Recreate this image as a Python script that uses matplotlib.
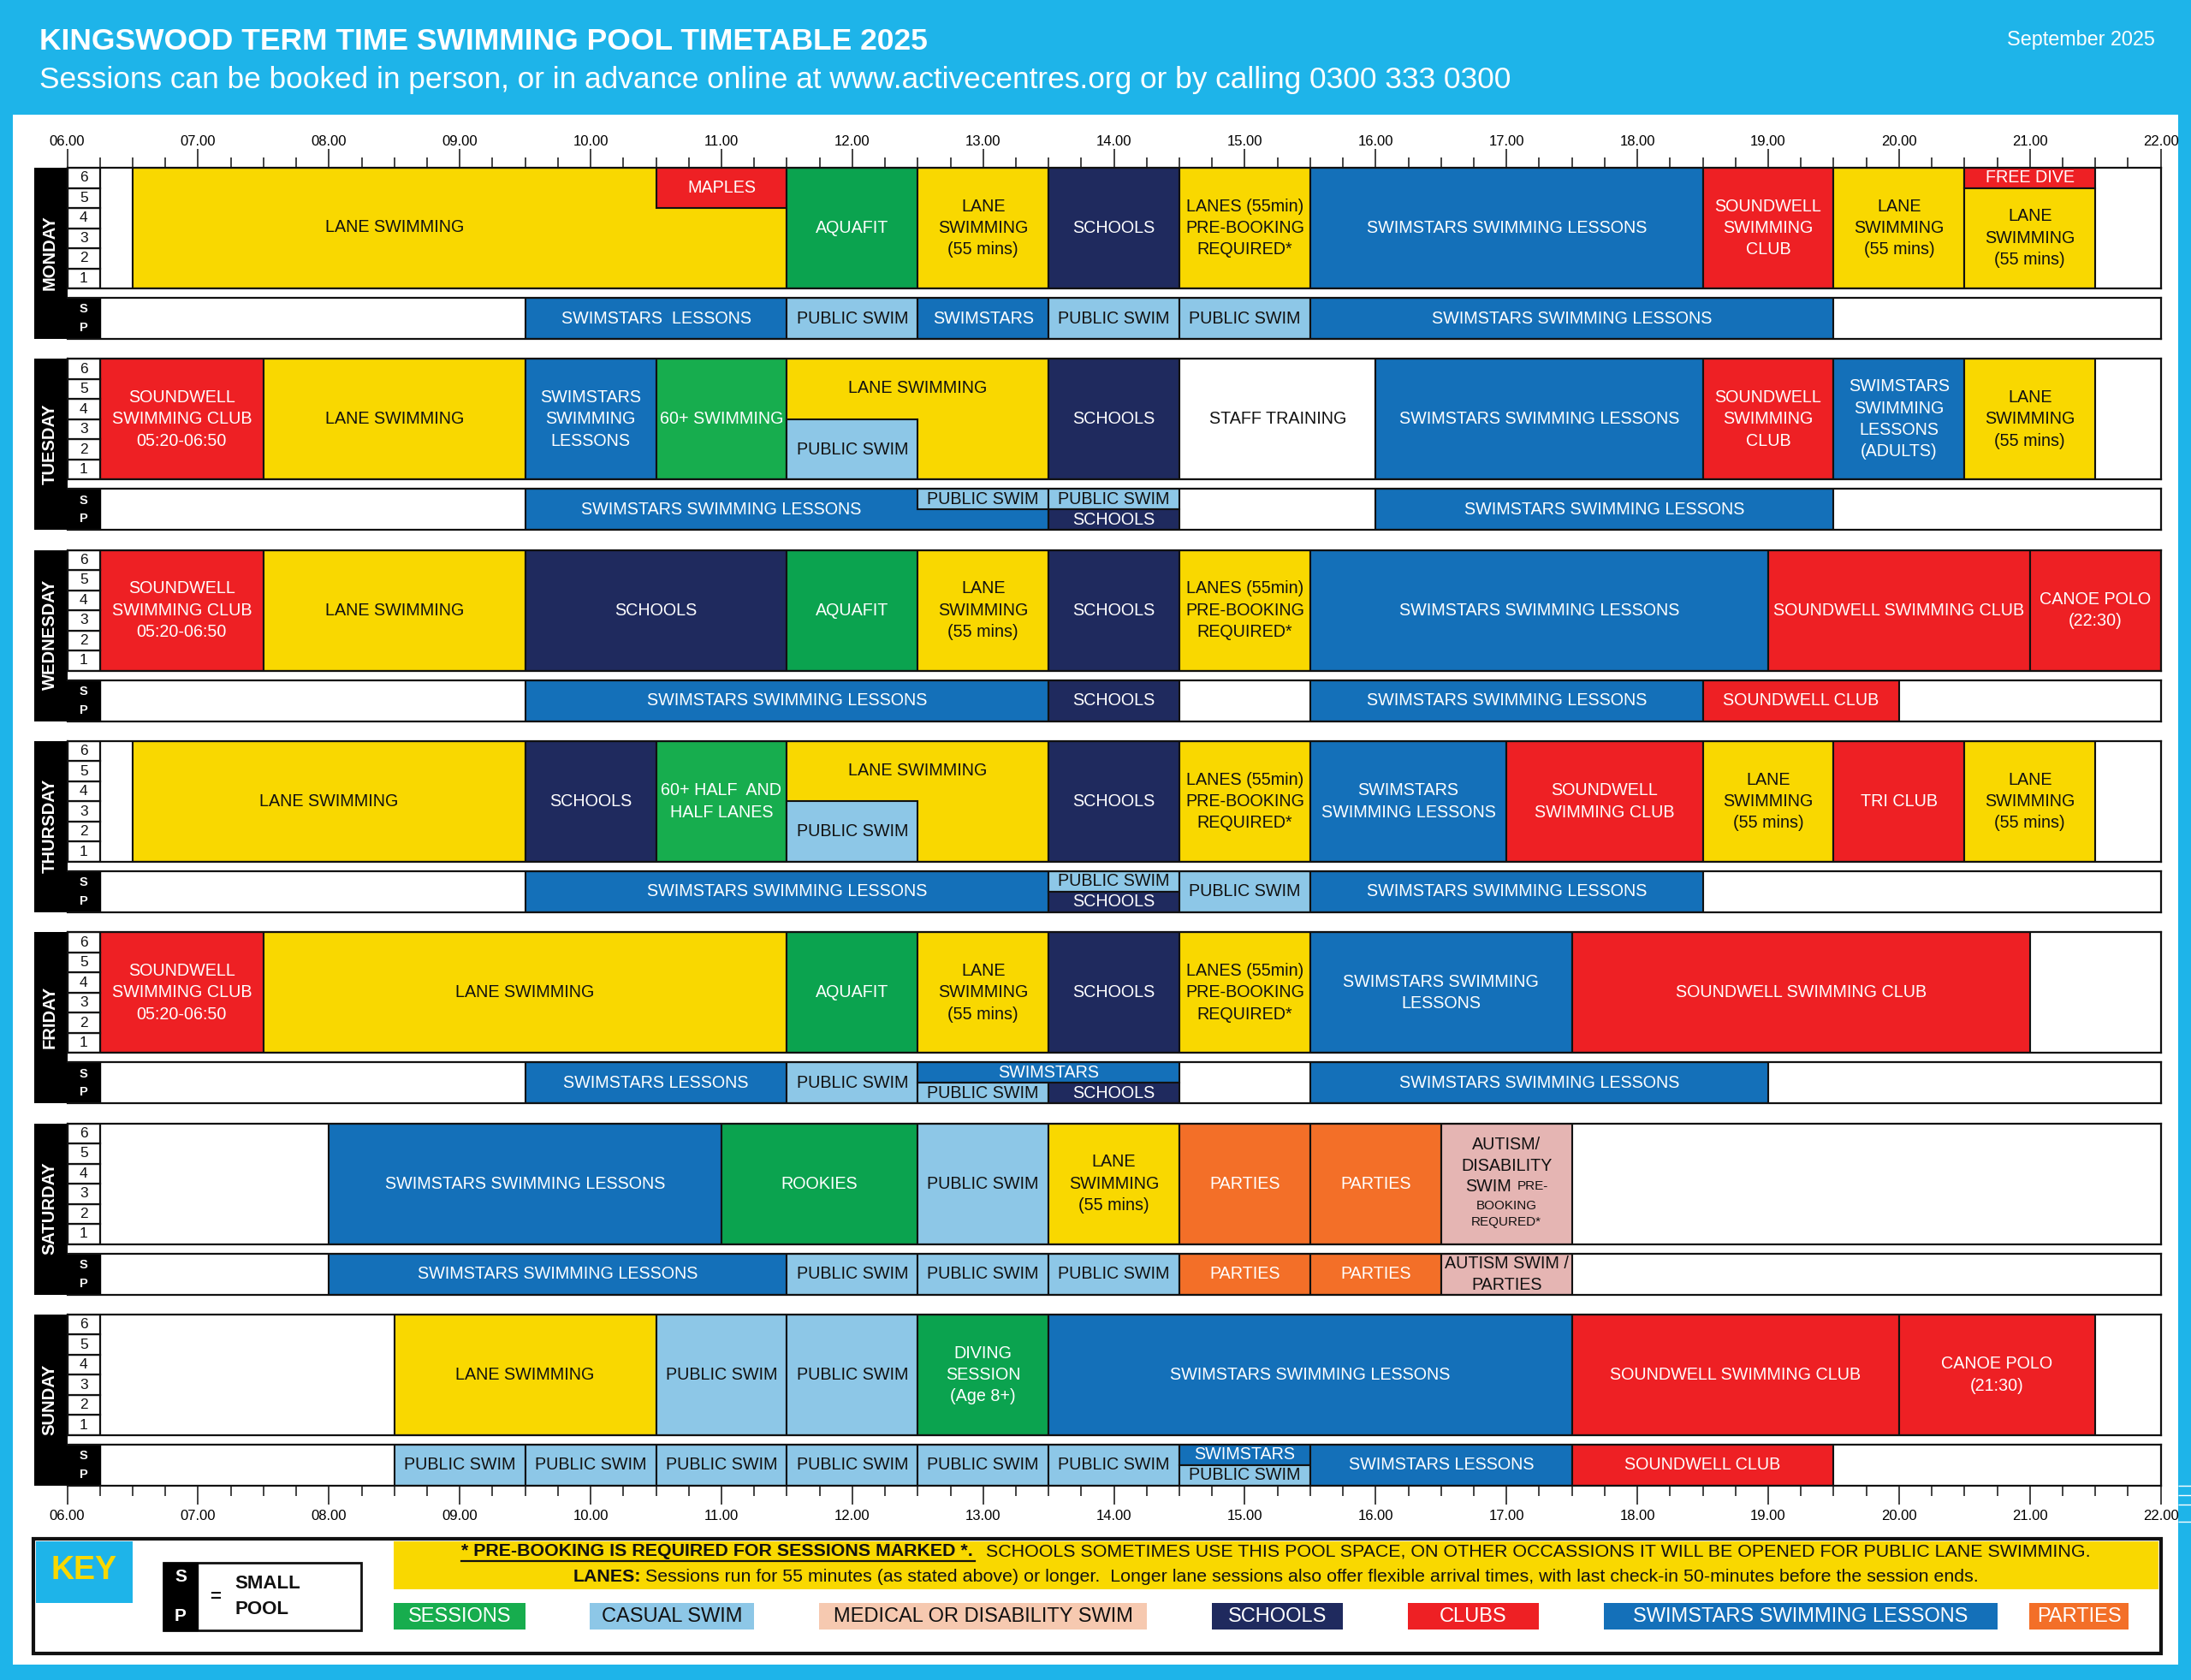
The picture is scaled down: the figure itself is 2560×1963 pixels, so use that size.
import matplotlib
matplotlib.use("Agg")
import matplotlib.pyplot as plt
from matplotlib.patches import Rectangle
from matplotlib.ticker import MultipleLocator, FuncFormatter

plt.rcParams['font.family'] = ['Liberation Sans', 'DejaVu Sans']

W, H = 2560, 1963
X0, X1 = 78.6, 2524.6
PITCH = 223.33
LW = 1.6

COL = {
    'lane': '#F9D800', 'club': '#EE2024', 'sess': '#0BA34F', 'sess2': '#17AD4E',
    'school': '#1F2A5E', 'stars': '#1470B9', 'casual': '#8DC7E7', 'med': '#E5B5B3',
    'party': '#F36F28', 'none': '#FFFFFF',
}
DARK_TEXT = {'lane', 'casual', 'med', 'none'}

DAYS = ['MONDAY', 'TUESDAY', 'WEDNESDAY', 'THURSDAY', 'FRIDAY', 'SATURDAY', 'SUNDAY']

LANE55 = 'LANE\nSWIMMING\n(55 mins)'
PREBOOK = 'LANES (55min)\nPRE-BOOKING\nREQUIRED*'
SWS = 'SWIMSTARS SWIMMING LESSONS'
SSC = 'SOUNDWELL\nSWIMMING\nCLUB'
SEARLY = 'SOUNDWELL\nSWIMMING CLUB\n05:20-06:50'
PS = 'PUBLIC SWIM'

# (start hour, end hour, lane low, lane high, category, label[, label x, label y])
monday = [
    (6.5, 11.5, 0, 6, 'lane', 'LANE SWIMMING', 8.5, 3.05),
    (10.5, 11.5, 4, 6, 'club', 'MAPLES'),
    (11.5, 12.5, 0, 6, 'sess', 'AQUAFIT'),
    (12.5, 13.5, 0, 6, 'lane', LANE55),
    (13.5, 14.5, 0, 6, 'school', 'SCHOOLS'),
    (14.5, 15.5, 0, 6, 'lane', PREBOOK),
    (15.5, 18.5, 0, 6, 'stars', SWS),
    (18.5, 19.5, 0, 6, 'club', SSC),
    (19.5, 20.5, 0, 6, 'lane', LANE55),
    (20.5, 21.5, 5, 6, 'club', 'FREE DIVE'),
    (20.5, 21.5, 0, 5, 'lane', LANE55),
]
monday_sp = [
    (9.5, 11.5, 0, 1, 'stars', 'SWIMSTARS  LESSONS'),
    (11.5, 12.5, 0, 1, 'casual', PS),
    (12.5, 13.5, 0, 1, 'stars', 'SWIMSTARS'),
    (13.5, 14.5, 0, 1, 'casual', PS),
    (14.5, 15.5, 0, 1, 'casual', PS),
    (15.5, 19.5, 0, 1, 'stars', SWS),
]
tuesday = [
    (6.25, 7.5, 0, 6, 'club', SEARLY),
    (7.5, 9.5, 0, 6, 'lane', 'LANE SWIMMING'),
    (9.5, 10.5, 0, 6, 'stars', 'SWIMSTARS\nSWIMMING\nLESSONS'),
    (10.5, 11.5, 0, 6, 'sess2', '60+ SWIMMING'),
    (11.5, 13.5, 0, 6, 'lane', 'LANE SWIMMING', 12.5, 4.55),
    (11.5, 12.5, 0, 3, 'casual', PS),
    (13.5, 14.5, 0, 6, 'school', 'SCHOOLS'),
    (14.5, 16, 0, 6, 'none', 'STAFF TRAINING'),
    (16, 18.5, 0, 6, 'stars', SWS),
    (18.5, 19.5, 0, 6, 'club', SSC),
    (19.5, 20.5, 0, 6, 'stars', 'SWIMSTARS\nSWIMMING\nLESSONS\n(ADULTS)'),
    (20.5, 21.5, 0, 6, 'lane', LANE55),
]
tuesday_sp = [
    (9.5, 13.5, 0, 1, 'stars', SWS, 11.0, 0.5),
    (12.5, 13.5, 0.5, 1, 'casual', PS),
    (13.5, 14.5, 0.5, 1, 'casual', PS),
    (13.5, 14.5, 0, 0.5, 'school', 'SCHOOLS'),
    (16, 19.5, 0, 1, 'stars', SWS),
]
wednesday = [
    (6.25, 7.5, 0, 6, 'club', SEARLY),
    (7.5, 9.5, 0, 6, 'lane', 'LANE SWIMMING'),
    (9.5, 11.5, 0, 6, 'school', 'SCHOOLS'),
    (11.5, 12.5, 0, 6, 'sess', 'AQUAFIT'),
    (12.5, 13.5, 0, 6, 'lane', LANE55),
    (13.5, 14.5, 0, 6, 'school', 'SCHOOLS'),
    (14.5, 15.5, 0, 6, 'lane', PREBOOK),
    (15.5, 19, 0, 6, 'stars', SWS),
    (19, 21, 0, 6, 'club', 'SOUNDWELL SWIMMING CLUB'),
    (21, 22, 0, 6, 'club', 'CANOE POLO\n(22:30)'),
]
wednesday_sp = [
    (9.5, 13.5, 0, 1, 'stars', SWS),
    (13.5, 14.5, 0, 1, 'school', 'SCHOOLS'),
    (15.5, 18.5, 0, 1, 'stars', SWS),
    (18.5, 20, 0, 1, 'club', 'SOUNDWELL CLUB'),
]
thursday = [
    (6.5, 9.5, 0, 6, 'lane', 'LANE SWIMMING'),
    (9.5, 10.5, 0, 6, 'school', 'SCHOOLS'),
    (10.5, 11.5, 0, 6, 'sess2', '60+ HALF  AND\nHALF LANES'),
    (11.5, 13.5, 0, 6, 'lane', 'LANE SWIMMING', 12.5, 4.55),
    (11.5, 12.5, 0, 3, 'casual', PS),
    (13.5, 14.5, 0, 6, 'school', 'SCHOOLS'),
    (14.5, 15.5, 0, 6, 'lane', PREBOOK),
    (15.5, 17, 0, 6, 'stars', 'SWIMSTARS\nSWIMMING LESSONS'),
    (17, 18.5, 0, 6, 'club', 'SOUNDWELL\nSWIMMING CLUB'),
    (18.5, 19.5, 0, 6, 'lane', LANE55),
    (19.5, 20.5, 0, 6, 'club', 'TRI CLUB'),
    (20.5, 21.5, 0, 6, 'lane', LANE55),
]
thursday_sp = [
    (9.5, 13.5, 0, 1, 'stars', SWS),
    (13.5, 14.5, 0.5, 1, 'casual', PS),
    (13.5, 14.5, 0, 0.5, 'school', 'SCHOOLS'),
    (14.5, 15.5, 0, 1, 'casual', PS),
    (15.5, 18.5, 0, 1, 'stars', SWS),
]
friday = [
    (6.25, 7.5, 0, 6, 'club', SEARLY),
    (7.5, 11.5, 0, 6, 'lane', 'LANE SWIMMING'),
    (11.5, 12.5, 0, 6, 'sess', 'AQUAFIT'),
    (12.5, 13.5, 0, 6, 'lane', LANE55),
    (13.5, 14.5, 0, 6, 'school', 'SCHOOLS'),
    (14.5, 15.5, 0, 6, 'lane', PREBOOK),
    (15.5, 17.5, 0, 6, 'stars', 'SWIMSTARS SWIMMING\nLESSONS'),
    (17.5, 21, 0, 6, 'club', 'SOUNDWELL SWIMMING CLUB'),
]
friday_sp = [
    (9.5, 11.5, 0, 1, 'stars', 'SWIMSTARS LESSONS'),
    (11.5, 12.5, 0, 1, 'casual', PS),
    (12.5, 14.5, 0.5, 1, 'stars', 'SWIMSTARS'),
    (12.5, 13.5, 0, 0.5, 'casual', PS),
    (13.5, 14.5, 0, 0.5, 'school', 'SCHOOLS'),
    (15.5, 19, 0, 1, 'stars', SWS),
]
saturday = [
    (8, 11, 0, 6, 'stars', SWS),
    (11, 12.5, 0, 6, 'sess', 'ROOKIES'),
    (12.5, 13.5, 0, 6, 'casual', PS),
    (13.5, 14.5, 0, 6, 'lane', LANE55),
    (14.5, 15.5, 0, 6, 'party', 'PARTIES'),
    (15.5, 16.5, 0, 6, 'party', 'PARTIES'),
    (16.5, 17.5, 0, 6, 'med', 'AUTISM/\nDISABILITY', 17.0, 4.41),
]
# (hour, lane, text, font size, horizontal alignment)
saturday_extra = [
    (17.04, 2.86, 'SWIM', 14.2, 'right'),
    (17.08, 2.86, 'PRE-', 11, 'left'),
    (17.0, 1.92, 'BOOKING', 11, 'center'),
    (17.0, 1.10, 'REQURED*', 11, 'center'),
]
saturday_sp = [
    (8, 11.5, 0, 1, 'stars', SWS),
    (11.5, 12.5, 0, 1, 'casual', PS),
    (12.5, 13.5, 0, 1, 'casual', PS),
    (13.5, 14.5, 0, 1, 'casual', PS),
    (14.5, 15.5, 0, 1, 'party', 'PARTIES'),
    (15.5, 16.5, 0, 1, 'party', 'PARTIES'),
    (16.5, 17.5, 0, 1, 'med', 'AUTISM SWIM /\nPARTIES'),
]
sunday = [
    (8.5, 10.5, 0, 6, 'lane', 'LANE SWIMMING'),
    (10.5, 11.5, 0, 6, 'casual', PS),
    (11.5, 12.5, 0, 6, 'casual', PS),
    (12.5, 13.5, 0, 6, 'sess', 'DIVING\nSESSION\n(Age 8+)'),
    (13.5, 17.5, 0, 6, 'stars', SWS),
    (17.5, 20, 0, 6, 'club', 'SOUNDWELL SWIMMING CLUB'),
    (20, 21.5, 0, 6, 'club', 'CANOE POLO\n(21:30)'),
]
sunday_sp = [
    (8.5, 9.5, 0, 1, 'casual', PS),
    (9.5, 10.5, 0, 1, 'casual', PS),
    (10.5, 11.5, 0, 1, 'casual', PS),
    (11.5, 12.5, 0, 1, 'casual', PS),
    (12.5, 13.5, 0, 1, 'casual', PS),
    (13.5, 14.5, 0, 1, 'casual', PS),
    (14.5, 15.5, 0.5, 1, 'stars', 'SWIMSTARS'),
    (14.5, 15.5, 0, 0.5, 'casual', PS),
    (15.5, 17.5, 0, 1, 'stars', 'SWIMSTARS LESSONS'),
    (17.5, 19.5, 0, 1, 'club', 'SOUNDWELL CLUB'),
]
MAIN = [monday, tuesday, wednesday, thursday, friday, saturday, sunday]
SMALL = [monday_sp, tuesday_sp, wednesday_sp, thursday_sp, friday_sp, saturday_sp, sunday_sp]

key_labels = ['SESSIONS', 'CASUAL SWIM', 'MEDICAL OR DISABILITY SWIM', 'SCHOOLS',
              'CLUBS', 'SWIMSTARS SWIMMING LESSONS', 'PARTIES']
key_left = [460, 689, 957, 1416, 1645, 1874, 2371]
key_right = [614, 881, 1340, 1569, 1798, 2334, 2487]
key_colour = ['#17AD4E', '#8DC7E7', '#F6C9B0', '#1F2A5E', '#EE2024', '#1470B9', '#F36F28']
key_text = ['white', '#111111', '#111111', 'white', 'white', 'white', 'white']

# stray white dashes on the right margin of the page
margin_dash_y = [1736, 1747, 1758, 1778]

fig = plt.figure(figsize=(W / 100, H / 100), dpi=100, facecolor='#1EB4E9')


def px_axes(z):
    a = fig.add_axes([0, 0, 1, 1], zorder=z)
    a.set_xlim(0, W)
    a.set_ylim(H, 0)
    a.axis('off')
    return a


bg = px_axes(0)
bg.add_patch(Rectangle((15, 134), 2530, 1811, fc='white', ec='none'))
bg.text(46, 48, 'KINGSWOOD TERM TIME SWIMMING POOL TIMETABLE 2025', color='white',
        fontsize=25.5, fontweight='bold', va='center', ha='left')
bg.text(46, 93, 'Sessions can be booked in person, or in advance online at www.activecentres.org or by calling 0300 333 0300',
        color='white', fontsize=25.4, va='center', ha='left')
bg.text(2518, 46, 'September 2025', color='white', fontsize=16.8, va='center', ha='right')
for y in margin_dash_y:
    bg.plot([2545, 2560], [y, y], color='white', lw=1.0, solid_capstyle='butt')


def add_axes_px(x0, y0, x1, y1, ylim):
    a = fig.add_axes([x0 / W, 1 - y1 / H, (x1 - x0) / W, (y1 - y0) / H], zorder=2)
    a.set_xlim(6, 22)
    a.set_ylim(*ylim)
    a.set_facecolor('white')
    a.tick_params(which='both', bottom=False, left=False, labelbottom=False, labelleft=False)
    for s in a.spines.values():
        s.set_linewidth(LW)
        s.set_color('#111111')
        s.set_zorder(6)
    return a


def draw_session(a, row, fs=14.2):
    start, end, lo, hi, cat, label = row[:6]
    a.add_patch(Rectangle((start, lo), end - start, hi - lo, fc=COL[cat], ec='#111111',
                          lw=LW * 0.95, zorder=3))
    tx, ty = (row[6], row[7]) if len(row) > 6 else ((start + end) / 2, (lo + hi) / 2)
    a.text(tx, ty, label, ha='center', va='center', fontsize=fs, zorder=5,
           color='#111111' if cat in DARK_TEXT else 'white', linespacing=1.42)


def style_ticks(a, top):
    a.xaxis.set_major_locator(MultipleLocator(1))
    a.xaxis.set_minor_locator(MultipleLocator(0.25))
    a.xaxis.set_major_formatter(FuncFormatter(lambda v, p: f'{int(round(v)):02d}.00'))
    a.tick_params(axis='x', which='major', length=16, width=1.1, color='#111111',
                  pad=0.5 if top else 4, labelsize=12,
                  top=top, labeltop=top, bottom=not top, labelbottom=not top)
    a.tick_params(axis='x', which='minor', length=8.6, width=1.1, color='#111111',
                  top=top, bottom=not top)


for i, day in enumerate(DAYS):
    top = 196 + PITCH * i
    bg.add_patch(Rectangle((39.5, top), 39, 200, fc='black', ec='none'))
    bg.add_patch(Rectangle((78, top + 152), 38, 48, fc='black', ec='none'))
    bg.text(58, top + 99, day, color='white', fontsize=14.5, fontweight='bold', rotation=90,
            ha='center', va='center')

    ax = add_axes_px(X0, top, X1, top + 141, (0, 6))
    for row in MAIN[i]:
        draw_session(ax, row)
    for lane in range(6):
        ax.add_patch(Rectangle((6, lane), 0.25, 1, fc='white', ec='#111111', lw=LW, zorder=4))
        ax.text(6.125, lane + 0.5, str(lane + 1), ha='center', va='center', fontsize=12.5,
                color='#111111', zorder=5)
    if day == 'SATURDAY':
        for hx, ly, txt, fs, ha in saturday_extra:
            ax.text(hx, ly, txt, fontsize=fs, ha=ha, va='center', color='#111111', zorder=5)
    if i == 0:
        style_ticks(ax, True)

    sp = add_axes_px(X0, top + 152, X1, top + 200, (0, 1))
    sp.spines['left'].set_visible(False)
    sp.add_patch(Rectangle((6, 0), 0.25, 1, fc='black', ec='black', zorder=4))
    sp.text(6.125, 0.72, 'S', color='white', fontsize=10.5, fontweight='bold', ha='center', va='center', zorder=5)
    sp.text(6.125, 0.27, 'P', color='white', fontsize=10.5, fontweight='bold', ha='center', va='center', zorder=5)
    for row in SMALL[i]:
        draw_session(sp, row)
    if i == len(DAYS) - 1:
        style_ticks(sp, False)

# Key
fg = px_axes(3)
fg.add_patch(Rectangle((39, 1798), 2486, 134, fc='none', ec='#111111', lw=3))
fg.add_patch(Rectangle((42, 1801), 113, 72, fc='#1EB4E9', ec='none'))
fg.text(98, 1835, 'KEY', color='#F9D800', fontsize=27, fontweight='bold', ha='center', va='center')
fg.add_patch(Rectangle((191, 1826), 231, 79, fc='white', ec='#111111', lw=2))
fg.add_patch(Rectangle((191, 1826), 40, 79, fc='black', ec='black', lw=1))
fg.text(211, 1842, 'S', color='white', fontsize=15, fontweight='bold', ha='center', va='center')
fg.text(211, 1888, 'P', color='white', fontsize=15, fontweight='bold', ha='center', va='center')
fg.text(252, 1866, '=', color='#111111', fontsize=16, fontweight='bold', ha='center', va='center')
fg.text(274, 1850, 'SMALL', color='#111111', fontsize=16, fontweight='bold', ha='left', va='center')
fg.text(274, 1880, 'POOL', color='#111111', fontsize=16, fontweight='bold', ha='left', va='center')

fg.add_patch(Rectangle((460, 1801), 2062, 56, fc='#F9D800', ec='none'))
fg.text(539, 1813, '* PRE-BOOKING IS REQUIRED FOR SESSIONS MARKED *.', color='#111111', fontsize=15.4,
        fontweight='bold', ha='left', va='center')
fg.plot([539, 1139], [1824, 1824], color='#111111', lw=1.6)
fg.text(1152, 1813, 'SCHOOLS SOMETIMES USE THIS POOL SPACE, ON OTHER OCCASSIONS IT WILL BE OPENED FOR PUBLIC LANE SWIMMING.',
        color='#111111', fontsize=15.4, ha='left', va='center')
fg.text(670, 1843, 'LANES:', color='#111111', fontsize=15.4, fontweight='bold', ha='left', va='center')
fg.text(754, 1843, 'Sessions run for 55 minutes (as stated above) or longer.  Longer lane sessions also offer flexible arrival times, with last check-in 50-minutes before the session ends.',
        color='#111111', fontsize=15.4, ha='left', va='center')

for lab, l, r, c, t in zip(key_labels, key_left, key_right, key_colour, key_text):
    fg.add_patch(Rectangle((l, 1873), r - l, 31, fc=c, ec='none'))
    fg.text((l + r) / 2, 1889, lab, color=t, fontsize=17, ha='center', va='center')

fig.savefig('out.png', dpi=100, facecolor=fig.get_facecolor())
